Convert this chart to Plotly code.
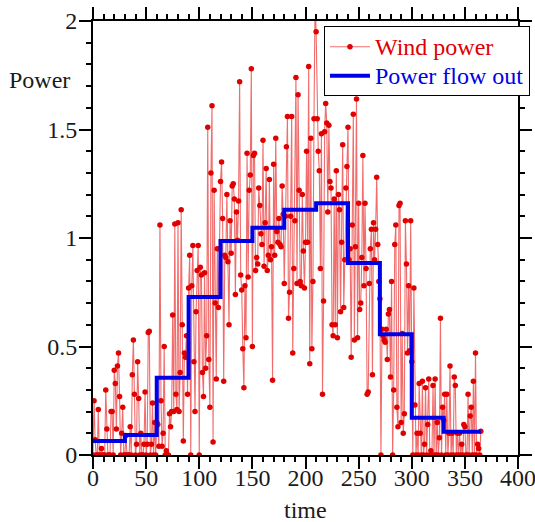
import numpy as np
import plotly.graph_objects as go

# Daily wind power (days 0..365)
wind_m01 = [0.0, 0.25, 0.07, 0.0, 0.0, 0.21, 0.0, 0.0, 0.03, 0.0, 0.0, 0.0, 0.30, 0.12, 0.0,
            0.0, 0.0, 0.20, 0.20, 0.0, 0.39, 0.33, 0.12, 0.41, 0.47, 0.27, 0.0, 0.10, 0.22, 0.0]
wind_m02 = [0.0, 0.09, 0.0, 0.0, 0.0, 0.13, 0.0, 0.37, 0.53, 0.28, 0.0, 0.05, 0.43, 0.26, 0.0,
            0.10, 0.0, 0.0, 0.05, 0.29, 0.0, 0.05, 0.565, 0.57, 0.0, 0.05, 0.24, 0.0, 0.15, 0.0]
wind_m03 = [0.15, 0.14, 0.04, 1.06, 0.25, 0.04, 0.10, 0.50, 0.0, 0.02, 0.0, 0.0, 0.19, 0.13, 0.20,
            0.645, 0.20, 1.065, 0.28, 0.21, 1.07, 0.20, 0.38, 1.13, 0.60, 0.065, 0.47, 0.45, 0.55, 0.28]
wind_m04 = [0.77, 0.92, 0.0, 0.78, 0.965, 0.43, 0.20, 0.66, 0.85, 0.965, 0.0, 0.865, 0.83, 0.38, 0.27,
            0.84, 0.40, 0.55, 1.51, 0.44, 0.22, 1.30, 1.61, 0.06, 1.22, 0.70, 0.35, 0.95, 0.68, 0.95]
wind_m05 = [1.26, 1.35, 1.09, 0.34, 0.92, 0.91, 1.20, 0.89, 0.60, 1.08, 0.93, 1.24, 1.25, 1.18, 0.74,
            1.12, 0.99, 1.17, 1.72, 0.83, 0.76, 0.49, 0.31, 0.78, 0.54, 1.39, 0.82, 1.22, 1.29, 1.78]
wind_m06 = [0.50, 1.38, 1.39, 0.85, 0.91, 0.88, 1.23, 1.15, 1.02, 0.97, 1.45, 0.87, 1.07, 1.32, 0.85,
            0.92, 1.27, 0.90, 0.96, 0.345, 1.34, 0.92, 1.46, 1.03, 0.98, 1.09, 0.97, 0.96, 1.24, 1.11]
wind_m07 = [0.79, 1.10, 1.42, 1.56, 0.63, 0.75, 1.10, 1.56, 0.47, 0.86, 1.08, 1.74, 0.79, 1.66, 1.22,
            0.80, 0.78, 1.20, 0.94, 0.77, 0.98, 1.40, 0.98, 1.79, 0.42, 1.46, 0.49, 0.80, 1.55, 2.10]
wind_m08 = [1.95, 1.55, 1.40, 1.31, 0.86, 1.48, 0.28, 0.71, 1.49, 1.62, 1.53, 1.12, 1.52, 1.26, 1.23,
            0.60, 0.55, 1.18, 0.60, 1.31, 0.54, 1.20, 1.13, 0.66, 0.98, 1.43, 0.68, 0.90, 1.23, 1.33]
wind_m09 = [1.51, 0.90, 0.95, 0.45, 1.06, 1.57, 0.53, 0.96, 1.64, 0.54, 1.16, 0.67, 0.70, 0.91, 1.38,
            0.78, 1.16, 0.86, 0.28, 0.29, 0.79, 0.95, 1.04, 0.37, 1.07, 0.90, 1.04, 1.28, 0.97, 0.80]
wind_m10 = [0.72, 0.0, 0.58, 0.55, 0.53, 0.52, 0.58, 0.44, 0.65, 0.67, 0.36, 0.80, 0.0, 0.30, 0.97,
            1.06, 0.22, 0.13, 1.15, 1.16, 0.15, 0.56, 0.10, 0.19, 1.08, 0.88, 0.47, 0.78, 0.48, 1.08]
wind_m11 = [0.43, 0.0, 0.77, 0.23, 0.0, 0.10, 0.0, 0.33, 0.10, 0.0, 0.34, 0.0, 0.05, 0.31, 0.0,
            0.14, 0.35, 0.0, 0.02, 0.0, 0.32, 0.0, 0.35, 0.0, 0.15, 0.0, 0.08, 0.63, 0.0, 0.22]
wind_m12 = [0.16, 0.28, 0.0, 0.28, 0.0, 0.10, 0.41, 0.0, 0.10, 0.0, 0.36, 0.32, 0.0, 0.10, 0.0,
            0.10, 0.0, 0.05, 0.0, 0.14, 0.13, 0.0, 0.0, 0.28, 0.0, 0.18, 0.22, 0.0, 0.34, 0.0,
            0.47, 0.0, 0.05, 0.03, 0.0, 0.11]

# Power flow out: one level per 30-day period
period_starts = [0, 30, 60, 90, 120, 150, 180, 210, 240, 270, 300, 330]
period_end = 365
flow_out = [0.065, 0.092, 0.356, 0.728, 0.986, 1.047, 1.13, 1.16, 0.885, 0.557, 0.172, 0.107]

x_ticks = [0, 50, 100, 150, 200, 250, 300, 350, 400]
y_ticks = [0, 0.5, 1, 1.5, 2]
y_tick_labels = ["0", "0.5", "1", "1.5", "2"]

wind = (wind_m01 + wind_m02 + wind_m03 + wind_m04 + wind_m05 + wind_m06 +
        wind_m07 + wind_m08 + wind_m09 + wind_m10 + wind_m11 + wind_m12)
days = np.arange(len(wind))

step_x = period_starts + [period_end]
step_y = flow_out + [flow_out[-1]]

FONT = "Liberation Serif, Times New Roman, serif"
TXT = "#1a1a1a"

fig = go.Figure()
fig.add_trace(go.Scatter(
    x=days, y=wind, mode="lines+markers",
    name='<span style="color:#e00000;font-size:24px">Wind power</span>',
    line=dict(color="rgba(235,45,45,0.7)", width=1.1),
    marker=dict(color="#e00000", size=5.5),
))
fig.add_trace(go.Scatter(
    x=step_x, y=step_y, mode="lines", line_shape="hv",
    name='<span style="color:#0000e6;font-size:24px">Power flow out</span>',
    line=dict(color="#0000e6", width=4),
))

axis_common = dict(
    showgrid=False, zeroline=False, showline=True, linecolor="black", linewidth=2,
    mirror="allticks", ticks="outside", ticklen=12, tickwidth=2, tickcolor="black",
    tickfont=dict(family=FONT, size=24, color=TXT), automargin=False,
    ticklabeloverflow="allow",
)
fig.update_xaxes(range=[0, 400], tickvals=x_ticks, ticklabelstandoff=-12,
                 minor=dict(dtick=10, ticks="outside", ticklen=5, tickwidth=1.5, tickcolor="black"),
                 **axis_common)
fig.update_yaxes(range=[0, 2], tickvals=y_ticks, ticktext=y_tick_labels, ticklabelstandoff=-3,
                 minor=dict(dtick=0.1, ticks="outside", ticklen=5, tickwidth=1.5, tickcolor="black"),
                 **axis_common)

fig.add_annotation(text="Power", xref="paper", yref="paper", x=-0.203, y=0.863,
                   xanchor="left", yanchor="middle", showarrow=False,
                   font=dict(family=FONT, size=24, color=TXT))
fig.add_annotation(text="time", xref="paper", yref="paper", x=0.5, y=-0.127,
                   xanchor="center", yanchor="middle", showarrow=False,
                   font=dict(family=FONT, size=24, color=TXT))

fig.update_layout(
    width=535, height=522,
    margin=dict(l=93, r=17, t=21, b=67, autoexpand=False),
    plot_bgcolor="white", paper_bgcolor="white",
    legend=dict(x=0.5435, y=0.988, xanchor="left", yanchor="top",
                bgcolor="white", bordercolor="black", borderwidth=1,
                font=dict(family=FONT, size=20), itemwidth=40,
                tracegroupgap=0),
)

fig.write_html("out.html", config={"displayModeBar": False},
               post_script="document.body.style.margin='0';")
